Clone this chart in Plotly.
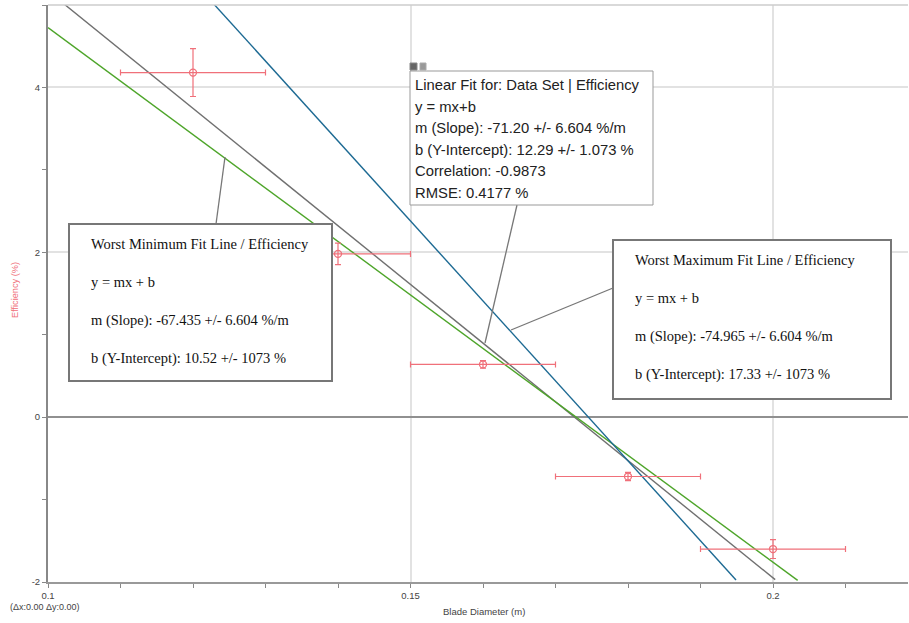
import plotly.graph_objects as go

# ---------------- data ----------------
diameter = [0.12, 0.14, 0.16, 0.18, 0.20]
efficiency = [4.18, 1.98, 0.64, -0.72, -1.60]
diameter_err = [0.01, 0.01, 0.01, 0.01, 0.01]
efficiency_err = [0.29, 0.13, 0.045, 0.05, 0.115]

fit_names = ["Linear Fit", "Worst Minimum Fit Line", "Worst Maximum Fit Line"]
fit_slopes = [-71.20, -64.85, -97.0]
fit_intercepts = [12.29, 11.21, 16.93]
fit_x_start = [0.10, 0.10, 0.12]
fit_x_end = [0.2003, 0.2034, 0.1949]

x_ticks = [0.1, 0.15, 0.2]
x_tick_labels = ["0.1", "0.15", "0.2"]
y_ticks = [-2, 0, 2, 4]
y_tick_labels = ["-2", "0", "2", "4"]

linear_fit_text = [
    "Linear Fit for: Data Set | Efficiency",
    "y = mx+b",
    "m (Slope): -71.20 +/- 6.604 %/m",
    "b (Y-Intercept): 12.29 +/- 1.073 %",
    "Correlation: -0.9873",
    "RMSE: 0.4177 %",
]
worst_min_text = [
    "Worst Minimum Fit Line / Efficiency",
    "y = mx + b",
    "m (Slope): -67.435 +/- 6.604 %/m",
    "b (Y-Intercept): 10.52 +/- 1073 %",
]
worst_max_text = [
    "Worst Maximum Fit Line / Efficiency",
    "y = mx + b",
    "m (Slope): -74.965 +/- 6.604 %/m",
    "b (Y-Intercept): 17.33 +/- 1073 %",
]

# ---------------- styles ----------------
fit_colors = ["#707070", "#4ea52a", "#1d6a93"]
point_color = "#f0707a"
W, H = 909, 623
ML, MR, MT, MB = 48, 1, 5, 41
PW, PH = W - ML - MR, H - MT - MB


def px(x):
    return (x - ML) / PW


def py(y):
    return (H - MB - y) / PH


fig = go.Figure()

for name, m, b, x0, x1, c in zip(fit_names, fit_slopes, fit_intercepts,
                                 fit_x_start, fit_x_end, fit_colors):
    xs = [x0, x1]
    ys = [m * x + b for x in xs]
    fig.add_trace(go.Scatter(x=xs, y=ys, mode="lines", name=name,
                             line=dict(color=c, width=1.4), hoverinfo="skip"))

fig.add_trace(go.Scatter(
    x=diameter, y=efficiency, mode="markers", name="Efficiency",
    marker=dict(symbol="circle-open", size=7, color=point_color,
                line=dict(width=1.3, color=point_color)),
    error_x=dict(type="data", array=diameter_err, color=point_color,
                 thickness=1.2, width=3),
    error_y=dict(type="data", array=efficiency_err, color=point_color,
                 thickness=1.2, width=3),
))

tickfont = dict(family="Liberation Sans", size=9.5, color="#444")
fig.update_xaxes(
    range=[0.1, 0.1 + 0.05 * PW / 362.5], tickvals=x_ticks, ticktext=x_tick_labels,
    showgrid=True, gridcolor="#e2e2e2", gridwidth=1.5,
    showline=True, linecolor="#999", linewidth=1.5,
    ticks="outside", ticklen=4, tickcolor="#888", tickfont=tickfont,
    minor=dict(dtick=0.01, ticks="outside", ticklen=4, tickcolor="#888", showgrid=False),
    zeroline=False, automargin=False,
)
fig.update_yaxes(
    range=[-2, 5], tickvals=y_ticks, ticktext=y_tick_labels,
    showgrid=True, gridcolor="#e2e2e2", gridwidth=1.5,
    showline=True, linecolor="#888", linewidth=2,
    ticks="outside", ticklen=4, tickcolor="#888", tickfont=tickfont,
    minor=dict(dtick=1, ticks="outside", ticklen=4, tickcolor="#888", showgrid=False),
    zeroline=True, zerolinecolor="#909090", zerolinewidth=1.5, automargin=False,
)

shapes = []
annotations = []

# top border
shapes.append(dict(type="line", xref="paper", yref="paper", x0=0, x1=1, y0=1, y1=1,
                   line=dict(color="#ccc", width=1.5)))

# callout lines
for (a, b2, c, d) in [(225, 157, 216, 224), (511, 330, 613, 288), (485, 343, 517, 205)]:
    shapes.append(dict(type="line", xref="paper", yref="paper",
                       x0=px(a), y0=py(b2), x1=px(c), y1=py(d),
                       line=dict(color="#777", width=1.3)))


def box(x0, y0, x1, y1, width, color):
    shapes.append(dict(type="rect", xref="paper", yref="paper",
                       x0=px(x0), y0=py(y0), x1=px(x1), y1=py(y1),
                       fillcolor="white", line=dict(color=color, width=width), layer="above"))


box(69, 224, 332, 381, 2, "#777")
box(613, 240, 891, 399, 2, "#777")
box(410, 71, 653, 205, 1, "#999")

# icons above linear fit box
shapes.append(dict(type="rect", xref="paper", yref="paper", x0=px(410), y0=py(63),
                   x1=px(417), y1=py(70), fillcolor="#666", line=dict(color="#888", width=1), layer="above"))
shapes.append(dict(type="rect", xref="paper", yref="paper", x0=px(420), y0=py(63),
                   x1=px(426), y1=py(70), fillcolor="#999", line=dict(color="#aaa", width=1), layer="above"))


def lines_text(lines, x, y0, dy, family, size, color):
    for i, t in enumerate(lines):
        annotations.append(dict(text=t, xref="paper", yref="paper", x=px(x), y=py(y0 + i * dy),
                                xanchor="left", yanchor="middle", showarrow=False,
                                font=dict(family=family, size=size, color=color)))


lines_text(worst_min_text, 89, 244, 38.3, "Liberation Serif", 14.5, "#111")
lines_text(worst_max_text, 633, 260, 38.3, "Liberation Serif", 14.5, "#111")
lines_text(linear_fit_text, 413, 85, 21.6, "Liberation Sans", 14.8, "#222")

annotations.append(dict(text="Efficiency (%)", textangle=-90, xref="paper", yref="paper",
                        x=px(15), y=py(290), xanchor="center", yanchor="middle", showarrow=False,
                        font=dict(family="Liberation Sans", size=9.2, color=point_color)))
annotations.append(dict(text="Blade Diameter (m)", xref="paper", yref="paper",
                        x=px(484), y=py(611), xanchor="center", yanchor="middle", showarrow=False,
                        font=dict(family="Liberation Sans", size=9.5, color="#444")))
annotations.append(dict(text="(Δx:0.00 Δy:0.00)", xref="paper", yref="paper",
                        x=px(8), y=py(607), xanchor="left", yanchor="middle", showarrow=False,
                        font=dict(family="Liberation Sans", size=9, color="#444")))

fig.update_layout(
    width=W, height=H, margin=dict(l=ML, r=MR, t=MT, b=MB),
    plot_bgcolor="white", paper_bgcolor="white", showlegend=False,
    shapes=shapes, annotations=annotations,
)

fig.write_html("out.html", config={"displayModeBar": False},
               post_script="document.body.style.margin='0';")
